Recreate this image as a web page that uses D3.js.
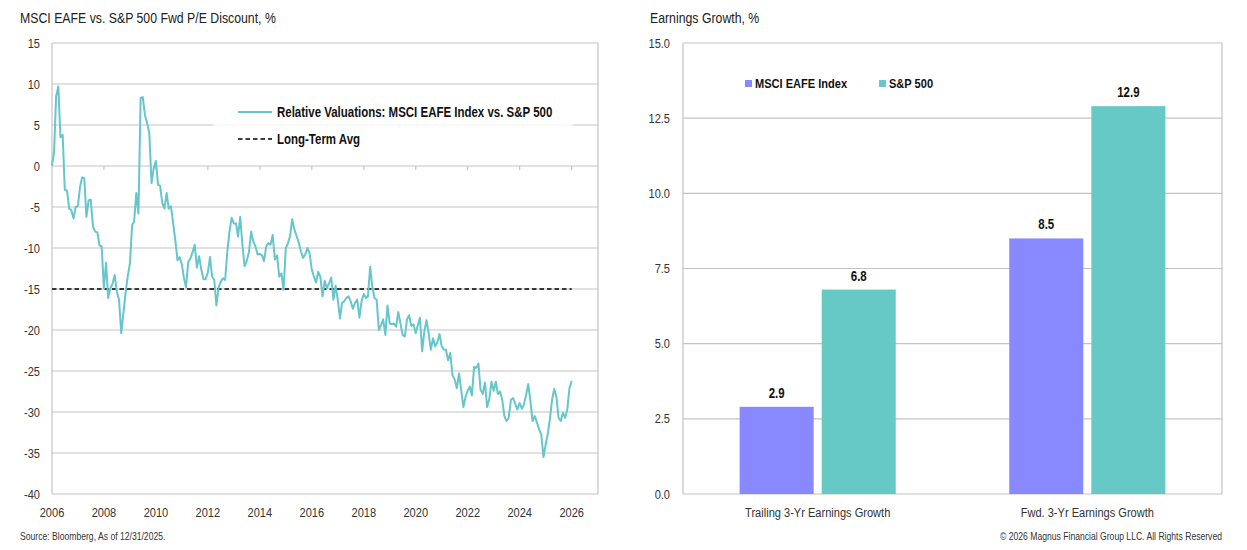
<!DOCTYPE html>
<html><head><meta charset="utf-8">
<script src="https://cdn.jsdelivr.net/npm/d3@7"></script>
<style>
body{margin:0;background:#fff;}
text{font-family:"Liberation Sans",Arial,sans-serif;}
</style></head>
<body><svg id="c" width="1247" height="550"></svg>
<script>
// ---------- Data ----------
const leftTitle = "MSCI EAFE vs. S&P 500 Fwd P/E Discount, %";
const rightTitle = "Earnings Growth, %";
const seriesStart = [2005, 11]; // month-end Dec 2005, monthly to Dec 2025
const relValues = [
0,1.8,8.5,9.7,3.5,3.8,-2.9,-3.0,-5.2,-5.4,-6.4,-5.0,-4.9,-2.5,-1.4,-1.5,-6.2,-4.2,-4.1,-7.4,
-8.0,-8.1,-9.7,-9.8,-14.9,-11.8,-16.1,-14.9,-14.4,-13.3,-15.3,-16.3,-20.4,-18.0,-15.5,-13.5,-11.9,-7.2,-6.8,-3.3,
-5.8,8.3,8.4,6.2,5.2,4.0,-2.1,-0.3,0.6,-2.3,-2.4,-4.5,-5.2,-3.3,-5.2,-4.9,-7.0,-9.0,-11.5,-11.1,
-12.0,-13.7,-14.8,-11.7,-11.3,-10.5,-9.6,-12.4,-11.0,-12.6,-13.8,-13.8,-13.0,-11.1,-13.5,-13.9,-17.0,-14.8,-14.1,-13.7,
-13.9,-10.4,-8.0,-6.3,-7.0,-7.0,-8.6,-6.2,-9.6,-12.2,-11.6,-10.5,-8.0,-9.2,-9.8,-10.8,-10.7,-10.9,-11.6,-9.8,
-9.4,-9.6,-8.4,-11.4,-10.9,-13.5,-13.1,-15.1,-10.0,-9.4,-8.6,-6.5,-7.7,-8.5,-9.3,-10.4,-11.2,-10.8,-10.0,-10.6,
-12.6,-13.5,-14.2,-12.9,-13.5,-15.9,-14.0,-14.9,-14.3,-13.6,-16.3,-14.6,-16.3,-18.6,-16.7,-16.5,-16.1,-15.9,-16.5,-17.4,
-16.7,-16.3,-18.5,-16.5,-15.6,-16.1,-15.9,-12.3,-14.7,-16.1,-16.3,-20.0,-19.4,-18.7,-20.6,-17.0,-19.2,-19.3,-19.2,-19.6,
-17.8,-19.2,-20.6,-20.8,-18.7,-18.2,-19.5,-19.3,-20.4,-19.4,-18.5,-22.6,-20.2,-18.8,-20.4,-22.4,-21.0,-22.0,-21.5,-20.5,
-22.0,-22.4,-22.4,-23.7,-22.8,-25.5,-26.0,-27.1,-25.3,-27.3,-29.4,-28.2,-27.4,-26.9,-28.0,-24.5,-24.6,-24.1,-27.3,-27.8,
-26.4,-29.4,-28.4,-26.3,-27.4,-26.3,-27.8,-27.5,-28.5,-30.5,-31.1,-30.7,-28.5,-28.3,-29.0,-29.7,-28.9,-29.6,-29.1,-27.9,
-26.6,-28.7,-31.1,-30.5,-31.3,-32.1,-32.8,-35.5,-34.0,-32.6,-30.9,-28.5,-27.2,-28.1,-30.7,-31.1,-30.1,-30.7,-29.7,-27.1,
-26.2];
const longTermAvg = -15;
const leftYTicks = [15,10,5,0,-5,-10,-15,-20,-25,-30,-35,-40];
const leftXTicks = [2006,2008,2010,2012,2014,2016,2018,2020,2022,2024,2026];
const lineLegend = ["Relative Valuations: MSCI EAFE Index vs. S&P 500","Long-Term Avg"];

const barCategories = ["Trailing 3-Yr Earnings Growth","Fwd. 3-Yr Earnings Growth"];
const barSeries = ["MSCI EAFE Index","S&P 500"];
const eafeValues = [2.9, 8.5];
const spValues = [6.8, 12.9];
const rightYTicks = [0,2.5,5,7.5,10,12.5,15];

const sourceText = "Source: Bloomberg, As of 12/31/2025.";
const copyText = "© 2026 Magnus Financial Group LLC. All Rights Reserved";

// ---------- Styles ----------
const lineColor = "#66c6cc", eafeColor = "#8989ff", spColor = "#67c9c6";
const gridColor = "#c4c4c4", textColor = "#333";
const SX = 0.82; // narrow font emulation

const svg = d3.select("#c");
const tr = (x,y) => `translate(${x},${y}) scale(${SX},1)`;
function label(parent, x, y, str, size, opts={}) {
  return parent.append("text").attr("transform", tr(x,y)).attr("font-size", size)
    .attr("font-weight", opts.bold ? "bold" : "normal")
    .attr("text-anchor", opts.anchor || "start")
    .attr("fill", opts.fill || textColor).text(str);
}

// ---------- Left chart ----------
const L = {x0:52, x1:598, y0:43, y1:494};
const parseDate = i => new Date(seriesStart[0], seriesStart[1]+i+1, 0); // month end
const relData = relValues.map((v,i)=>({d:parseDate(i), v}));
const xL = d3.scaleTime().domain([new Date(2006,0,1), new Date(2026,0,1)]).range([52, 571.7]);
const yL = d3.scaleLinear().domain([-40,15]).range([L.y1, L.y0]);

label(svg, 20, 23, leftTitle, 15, {fill:"#222"});

const gL = svg.append("g");
gL.selectAll(".gl").data(leftYTicks).join("line")
  .attr("x1",L.x0).attr("x2",L.x1).attr("y1",d=>yL(d)).attr("y2",d=>yL(d))
  .attr("stroke",gridColor).attr("stroke-width",1.2);
gL.append("line").attr("x1",L.x0).attr("x2",L.x0).attr("y1",L.y0).attr("y2",L.y1).attr("stroke",gridColor).attr("stroke-width",1.2);
gL.append("line").attr("x1",L.x1).attr("x2",L.x1).attr("y1",L.y0).attr("y2",L.y1).attr("stroke",gridColor).attr("stroke-width",1.2);
gL.selectAll(".tk").data(leftXTicks.slice(1)).join("line")
  .attr("x1",d=>xL(new Date(d,0,1))).attr("x2",d=>xL(new Date(d,0,1)))
  .attr("y1",yL(0)).attr("y2",yL(0)+4).attr("stroke",gridColor).attr("stroke-width",1.2);
gL.selectAll(".yl").data(leftYTicks).join("text")
  .attr("transform",d=>tr(40, yL(d)+4.5)).attr("text-anchor","end").attr("font-size",13.5).attr("fill",textColor).text(d=>d);
gL.selectAll(".xl").data(leftXTicks).join("text")
  .attr("transform",d=>tr(xL(new Date(d,0,1)), 517)).attr("text-anchor","middle").attr("font-size",13.5).attr("fill",textColor).text(d=>d);

gL.append("rect").attr("x",213).attr("y",98).attr("width",360).attr("height",52).attr("fill","#fff").attr("opacity",0.8);

gL.append("line").attr("x1",xL(new Date(2006,0,1))).attr("x2",xL(new Date(2026,0,1)))
  .attr("y1",yL(longTermAvg)).attr("y2",yL(longTermAvg))
  .attr("stroke","#000").attr("stroke-width",1.6).attr("stroke-dasharray","4.5,3");

gL.append("path").datum(relData)
  .attr("d", d3.line().x(d=>xL(d.d)).y(d=>yL(d.v)))
  .attr("fill","none").attr("stroke",lineColor).attr("stroke-width",2).attr("stroke-linejoin","round");

const lg = gL.append("g");
lg.append("line").attr("x1",238).attr("x2",272).attr("y1",112).attr("y2",112).attr("stroke",lineColor).attr("stroke-width",2);
lg.append("line").attr("x1",238).attr("x2",272).attr("y1",139).attr("y2",139).attr("stroke","#000").attr("stroke-width",1.6).attr("stroke-dasharray","4.5,3");
lg.selectAll("text").data(lineLegend).join("text")
  .attr("transform",(d,i)=>tr(277, 117+i*27)).attr("font-size",14).attr("font-weight","bold").attr("fill","#111").text(d=>d);

label(svg, 20, 540, sourceText, 10.5);

// ---------- Right chart ----------
const R = {x0:683, x1:1222, y0:43, y1:494};
const yR = d3.scaleLinear().domain([0,15]).range([R.y1, R.y0]);
const x0 = d3.scaleBand().domain(barCategories).range([R.x0, R.x1]).paddingInner(0.421).paddingOuter(0.21);
const x1 = d3.scaleBand().domain(barSeries).range([0, x0.bandwidth()]).paddingInner(0.098);
const color = d3.scaleOrdinal().domain(barSeries).range([eafeColor, spColor]);

label(svg, 650, 23, rightTitle, 15, {fill:"#222"});

const gR = svg.append("g");
gR.selectAll(".gr").data(rightYTicks).join("line")
  .attr("x1",R.x0).attr("x2",R.x1).attr("y1",d=>yR(d)).attr("y2",d=>yR(d))
  .attr("stroke",gridColor).attr("stroke-width",1.2);
gR.append("line").attr("x1",R.x0).attr("x2",R.x0).attr("y1",R.y0).attr("y2",R.y1).attr("stroke",gridColor).attr("stroke-width",1.2);
gR.append("line").attr("x1",R.x1).attr("x2",R.x1).attr("y1",R.y0).attr("y2",R.y1).attr("stroke",gridColor).attr("stroke-width",1.2);
gR.selectAll(".yl").data(rightYTicks).join("text")
  .attr("transform",d=>tr(670, yR(d)+4.5)).attr("text-anchor","end").attr("font-size",13.5).attr("fill",textColor).text(d=>d.toFixed(1));

const barData = barCategories.map((c,i)=>({c, vals:[{s:barSeries[0],v:eafeValues[i]},{s:barSeries[1],v:spValues[i]}]}));
const grp = gR.selectAll(".grp").data(barData).join("g").attr("transform",d=>`translate(${x0(d.c)},0)`);
grp.selectAll("rect").data(d=>d.vals).join("rect")
  .attr("x",d=>x1(d.s)).attr("width",x1.bandwidth())
  .attr("y",d=>yR(d.v)).attr("height",d=>yR(0)-yR(d.v)).attr("fill",d=>color(d.s));
grp.selectAll(".vl").data(d=>d.vals).join("text")
  .attr("transform",d=>tr(x1(d.s)+x1.bandwidth()/2, yR(d.v)-9))
  .attr("text-anchor","middle").attr("font-size",14).attr("font-weight","bold").attr("fill","#111").text(d=>d.v.toFixed(1));
gR.selectAll(".cl").data(barCategories).join("text")
  .attr("transform",d=>tr(x0(d)+x0.bandwidth()/2, 517)).attr("text-anchor","middle").attr("font-size",13.5).attr("fill",textColor).text(d=>d);

const legX = [745, 879];
const rl = gR.selectAll(".rl").data(barSeries).join("g").attr("transform",(d,i)=>`translate(${legX[i]},80)`);
rl.append("rect").attr("width",7).attr("height",7).attr("fill",d=>color(d));
rl.append("text").attr("transform",tr(10,8)).attr("font-size",13.5).attr("font-weight","bold").attr("fill","#111").text(d=>d);

label(svg, 1222, 540, copyText, 10.5, {anchor:"end"});
</script></body></html>
